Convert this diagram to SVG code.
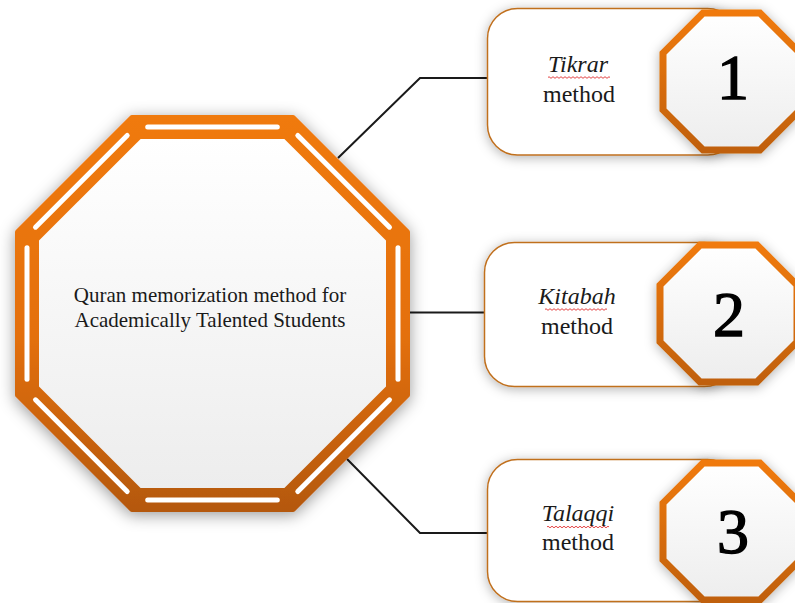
<svg xmlns="http://www.w3.org/2000/svg" width="795" height="603" viewBox="0 0 795 603">
  <defs>
    <linearGradient id="orangeBig" gradientUnits="userSpaceOnUse" x1="0" y1="115" x2="0" y2="512">
      <stop offset="0" stop-color="#F07A0C"/>
      <stop offset="0.55" stop-color="#E4700C"/>
      <stop offset="1" stop-color="#B4580C"/>
    </linearGradient>
    <linearGradient id="orangeSmall" x1="0" y1="0" x2="0" y2="1">
      <stop offset="0" stop-color="#F07A0C"/>
      <stop offset="1" stop-color="#C0600C"/>
    </linearGradient>
    <linearGradient id="whiteGrad" x1="0" y1="0" x2="0" y2="1">
      <stop offset="0" stop-color="#FFFFFF"/>
      <stop offset="1" stop-color="#EDEDED"/>
    </linearGradient>
    <filter id="shadowBig" x="-20%" y="-20%" width="140%" height="140%">
      <feDropShadow dx="0" dy="3" stdDeviation="8" flood-color="#000" flood-opacity="0.4"/>
    </filter>
    <filter id="shadow" x="-20%" y="-20%" width="140%" height="140%">
      <feDropShadow dx="0" dy="2" stdDeviation="6" flood-color="#000" flood-opacity="0.3"/>
    </filter>
    <polygon id="smallOct" points="-28.4,-68.5 28.4,-68.5 68.5,-28.4 68.5,28.4 28.4,68.5 -28.4,68.5 -68.5,28.4 -68.5,-28.4"/>
    <path id="wave" d="M0,0 q1,-1.6 2,0 t2,0 t2,0 t2,0 t2,0 t2,0 t2,0 t2,0 t2,0 t2,0 t2,0 t2,0 t2,0 t2,0 t2,0 t2,0 t2,0 t2,0 t2,0 t2,0 t2,0 t2,0 t2,0 t2,0 t2,0 t2,0 t2,0 t2,0 t2,0 t2,0 t2,0"/>
  </defs>
  <style>
    .conn { fill: none; stroke: #1A1A1A; stroke-width: 2; }
    .box { fill: #FFFFFF; stroke: #C0701F; stroke-width: 1.5; }
    .octS { fill: url(#whiteGrad); stroke: url(#orangeSmall); stroke-width: 7; stroke-linejoin: miter; }
    .dash { stroke: #FFFFFF; stroke-width: 5; stroke-linecap: round; fill: none; }
    .main { font-family: "Liberation Serif", "Times New Roman", serif; font-size: 21px; fill: #1A1A1A; text-anchor: middle; }
    .lbl { font-family: "Liberation Serif", "Times New Roman", serif; font-size: 24px; fill: #1A1A1A; text-anchor: middle; }
    .it { font-style: italic; }
    .num { font-family: "Liberation Serif", "Times New Roman", serif; font-size: 64px; fill: #000000; stroke: #000000; stroke-width: 1.4; text-anchor: middle; }
    .spell { fill: none; stroke: #E03030; stroke-width: 0.9; }
  </style>

  <rect width="795" height="603" fill="#FFFFFF"/>

  <g id="connectors">
    <polyline class="conn" points="338,158 420,78 488,78"/>
    <polyline class="conn" points="400,312.5 485,312.5"/>
    <polyline class="conn" points="347,459 420,533 488,533"/>
  </g>

  <g id="center-node">
    <g filter="url(#shadowBig)">
      <polygon points="132,118 293,118 407,232 407,395 293,509 132,509 18,395 18,232" fill="url(#orangeBig)" stroke="url(#orangeBig)" stroke-width="6" stroke-linejoin="round"/>
    </g>
    <polygon points="140.6,139 284.4,139 386,240.6 386,386.4 284.4,488 140.6,488 39,386.4 39,240.6" fill="url(#whiteGrad)"/>
    <g class="dash">
      <line x1="147.7" y1="127" x2="277.3" y2="127"/>
      <line x1="297.8" y1="135.5" x2="389.5" y2="227.2"/>
      <line x1="398" y1="247.7" x2="398" y2="379.3"/>
      <line x1="389.5" y1="399.8" x2="297.8" y2="491.5"/>
      <line x1="277.3" y1="500" x2="147.7" y2="500"/>
      <line x1="127.2" y1="491.5" x2="35.5" y2="399.8"/>
      <line x1="27" y1="379.3" x2="27" y2="247.7"/>
      <line x1="35.5" y1="227.2" x2="127.2" y2="135.5"/>
    </g>
    <text class="main" x="210" y="302">Quran memorization method for</text>
    <text class="main" x="210" y="327">Academically Talented Students</text>
  </g>

  <g id="node-tikrar">
    <rect class="box" x="487.5" y="8.5" width="250" height="146.5" rx="30" filter="url(#shadow)"/>
    <text class="lbl it" x="578" y="72">Tikrar</text>
    <use href="#wave" class="spell" x="548" y="77.5"/>
    <text class="lbl" x="579" y="102">method</text>
    <use href="#smallOct" class="octS" x="731.5" y="81.5" filter="url(#shadow)"/>
    <text class="num" x="733" y="99">1</text>
  </g>

  <g id="node-kitabah">
    <rect class="box" x="484.5" y="242.5" width="250" height="144" rx="30" filter="url(#shadow)"/>
    <text class="lbl it" x="577" y="304">Kitabah</text>
    <use href="#wave" class="spell" x="545" y="309.5"/>
    <text class="lbl" x="577" y="334">method</text>
    <use href="#smallOct" class="octS" x="728.5" y="313.5" filter="url(#shadow)"/>
    <text class="num" x="729" y="336">2</text>
  </g>

  <g id="node-talaqqi">
    <rect class="box" x="487.5" y="459.5" width="250" height="142" rx="30" filter="url(#shadow)"/>
    <text class="lbl it" x="578" y="521">Talaqqi</text>
    <use href="#wave" class="spell" x="547" y="527"/>
    <text class="lbl" x="578" y="550">method</text>
    <use href="#smallOct" class="octS" x="731.5" y="531.5" filter="url(#shadow)"/>
    <text class="num" x="733" y="553">3</text>
  </g>
</svg>
